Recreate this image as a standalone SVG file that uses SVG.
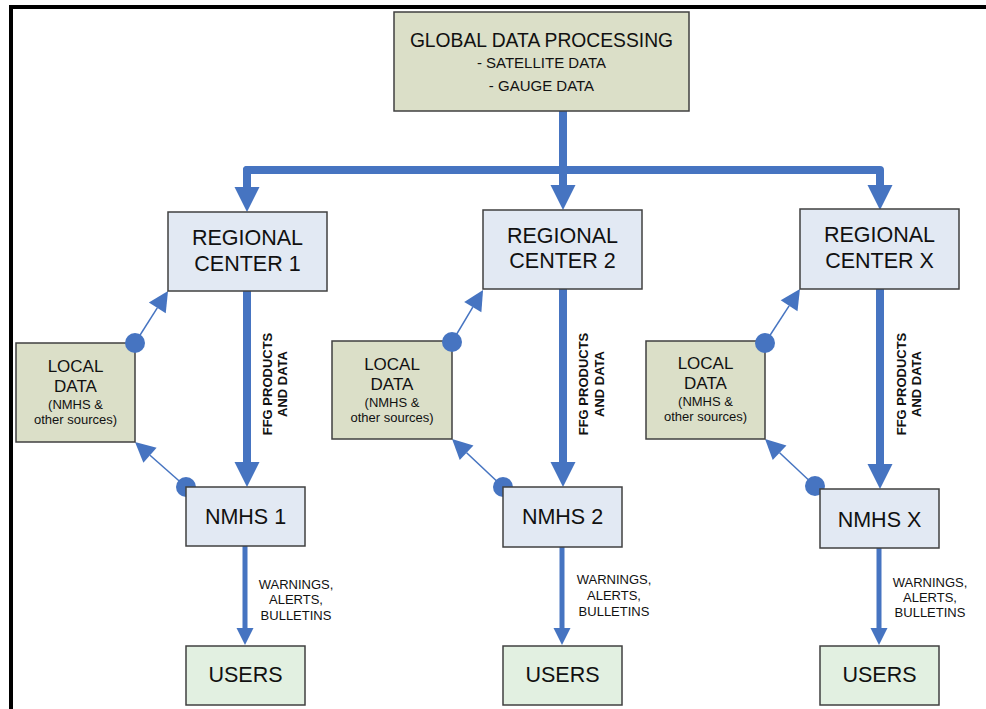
<svg xmlns="http://www.w3.org/2000/svg" width="986" height="709" viewBox="0 0 986 709">
<defs>
<style>
text{font-family:"Liberation Sans",Arial,sans-serif;fill:#111;text-anchor:middle}
.box{stroke:#404040;stroke-width:1.5}
.olive{fill:#dbdfc8}
.blue{fill:#e2e9f3}
.green{fill:#e2f0e1}
.big{font-size:21.5px}
.loc{font-size:17px}
.sm{font-size:13px}
.lbl{font-size:13px}
.ffg{font-size:13px;font-weight:bold}
.thick{fill:none;stroke:#4674c1;stroke-width:8;stroke-linecap:round;stroke-linejoin:round}
.mid{fill:none;stroke:#4674c1;stroke-width:5;stroke-linecap:round}
.thin{fill:none;stroke:#4674c1;stroke-width:1.5}
.dot{fill:#4674c1}
</style>
<marker id="hBig" markerUnits="userSpaceOnUse" markerWidth="25" markerHeight="25" refX="0" refY="12.5" orient="auto" overflow="visible"><path d="M0,0 L25,12.5 L0,25 z" fill="#4674c1"/></marker>
<marker id="hMid" markerUnits="userSpaceOnUse" markerWidth="17" markerHeight="17" refX="0" refY="8.5" orient="auto" overflow="visible"><path d="M0,0 L17,8.5 L0,17 z" fill="#4674c1"/></marker>
<marker id="hSm" markerUnits="userSpaceOnUse" markerWidth="20" markerHeight="20" refX="0" refY="10" orient="auto" overflow="visible"><path d="M0,0 L20,10 L0,20 z" fill="#4674c1"/></marker>
</defs>
<rect width="986" height="709" fill="#fff"/>
<g id="frame" fill="none" stroke="#000" stroke-width="4">
<path d="M11,709 L11,7 L986,7"/>
</g>
<g id="connectors">
<path class="thick" d="M563,108 L563,185" marker-end="url(#hBig)"/>
<path class="thick" d="M247,187 L247,170 L880,170 L880,185" marker-end="url(#hBig)"/>
<path class="thick" d="M247,170 L247,187" marker-end="url(#hBig)"/>
<path class="thick" d="M247,288 L247,462" marker-end="url(#hBig)"/>
<path class="thick" d="M563,286 L563,462" marker-end="url(#hBig)"/>
<path class="thick" d="M880,286 L880,464" marker-end="url(#hBig)"/>
<path class="mid" d="M245,546 L245,628" marker-end="url(#hMid)"/>
<path class="mid" d="M562,547 L562,628" marker-end="url(#hMid)"/>
<path class="mid" d="M879,548 L879,628" marker-end="url(#hMid)"/>
<path class="thin" d="M135,343 L157.3,307.9" marker-end="url(#hSm)"/>
<path class="thin" d="M186,487 L150,455.2" marker-end="url(#hSm)"/>
<path class="thin" d="M452,342 L472.8,307.2" marker-end="url(#hSm)"/>
<path class="thin" d="M503,487 L466.6,452.7" marker-end="url(#hSm)"/>
<path class="thin" d="M765,343 L789.1,305.8" marker-end="url(#hSm)"/>
<path class="thin" d="M815,486 L779.6,452.7" marker-end="url(#hSm)"/>
<text class="ffg" transform="translate(272,384) rotate(-90)">FFG PRODUCTS</text>
<text class="ffg" transform="translate(287,384) rotate(-90)">AND DATA</text>
<text class="ffg" transform="translate(588,384) rotate(-90)">FFG PRODUCTS</text>
<text class="ffg" transform="translate(604,384) rotate(-90)">AND DATA</text>
<text class="ffg" transform="translate(906,384) rotate(-90)">FFG PRODUCTS</text>
<text class="ffg" transform="translate(921,384) rotate(-90)">AND DATA</text>
<text class="lbl" x="296" y="589">WARNINGS,</text>
<text class="lbl" x="296" y="604">ALERTS,</text>
<text class="lbl" x="296" y="620">BULLETINS</text>
<text class="lbl" x="614" y="584">WARNINGS,</text>
<text class="lbl" x="614" y="600">ALERTS,</text>
<text class="lbl" x="614" y="616">BULLETINS</text>
<text class="lbl" x="930" y="587">WARNINGS,</text>
<text class="lbl" x="930" y="602">ALERTS,</text>
<text class="lbl" x="930" y="617">BULLETINS</text>
</g>
<g id="global">
<rect class="box olive" x="394" y="12" width="295" height="99"/>
<text x="541.5" y="47" style="font-size:19.3px">GLOBAL DATA PROCESSING</text>
<text x="541.5" y="68" style="font-size:15px">- SATELLITE DATA</text>
<text x="541.5" y="91" style="font-size:15px">- GAUGE DATA</text>
</g>
<g id="regional1">
<rect class="box blue" x="168" y="212" width="159" height="79"/>
<text class="big" x="247.5" y="245">REGIONAL</text>
<text class="big" x="247.5" y="271">CENTER 1</text>
</g>
<g id="regional2">
<rect class="box blue" x="483" y="210" width="159" height="79"/>
<text class="big" x="562.5" y="243">REGIONAL</text>
<text class="big" x="562.5" y="268">CENTER 2</text>
</g>
<g id="regionalX">
<rect class="box blue" x="800" y="209" width="159" height="80"/>
<text class="big" x="879.5" y="242">REGIONAL</text>
<text class="big" x="879.5" y="268">CENTER X</text>
</g>
<g id="local1">
<rect class="box olive" x="16" y="343" width="119" height="99"/>
<text class="loc" x="75.5" y="372">LOCAL</text>
<text class="loc" x="75.5" y="392">DATA</text>
<text class="sm" x="75.5" y="409">(NMHS &amp;</text>
<text class="sm" x="75.5" y="424">other sources)</text>
</g>
<g id="local2">
<rect class="box olive" x="332" y="341" width="120" height="98"/>
<text class="loc" x="392" y="370">LOCAL</text>
<text class="loc" x="392" y="390">DATA</text>
<text class="sm" x="392" y="407">(NMHS &amp;</text>
<text class="sm" x="392" y="422">other sources)</text>
</g>
<g id="localX">
<rect class="box olive" x="646" y="341" width="119" height="98"/>
<text class="loc" x="705.5" y="369">LOCAL</text>
<text class="loc" x="705.5" y="389">DATA</text>
<text class="sm" x="705.5" y="406">(NMHS &amp;</text>
<text class="sm" x="705.5" y="421">other sources)</text>
</g>
<g id="dots">
<circle class="dot" cx="135" cy="343" r="10"/>
<circle class="dot" cx="186" cy="487" r="10"/>
<circle class="dot" cx="452" cy="342" r="10"/>
<circle class="dot" cx="503" cy="487" r="10"/>
<circle class="dot" cx="765" cy="343" r="10"/>
<circle class="dot" cx="815" cy="486" r="10"/>
</g>
<g id="nmhs1">
<rect class="box blue" x="186" y="487" width="119" height="59"/>
<text class="big" x="245.5" y="524">NMHS 1</text>
</g>
<g id="nmhs2">
<rect class="box blue" x="503" y="487" width="119" height="60"/>
<text class="big" x="562.5" y="524">NMHS 2</text>
</g>
<g id="nmhsX">
<rect class="box blue" x="820" y="489" width="119" height="59"/>
<text class="big" x="879.5" y="527">NMHS X</text>
</g>
<g id="users1">
<rect class="box green" x="186" y="646" width="119" height="59"/>
<text class="big" x="245.5" y="682">USERS</text>
</g>
<g id="users2">
<rect class="box green" x="503" y="646" width="119" height="59"/>
<text class="big" x="562.5" y="682">USERS</text>
</g>
<g id="usersX">
<rect class="box green" x="820" y="646" width="119" height="59"/>
<text class="big" x="879.5" y="682">USERS</text>
</g>
</svg>
